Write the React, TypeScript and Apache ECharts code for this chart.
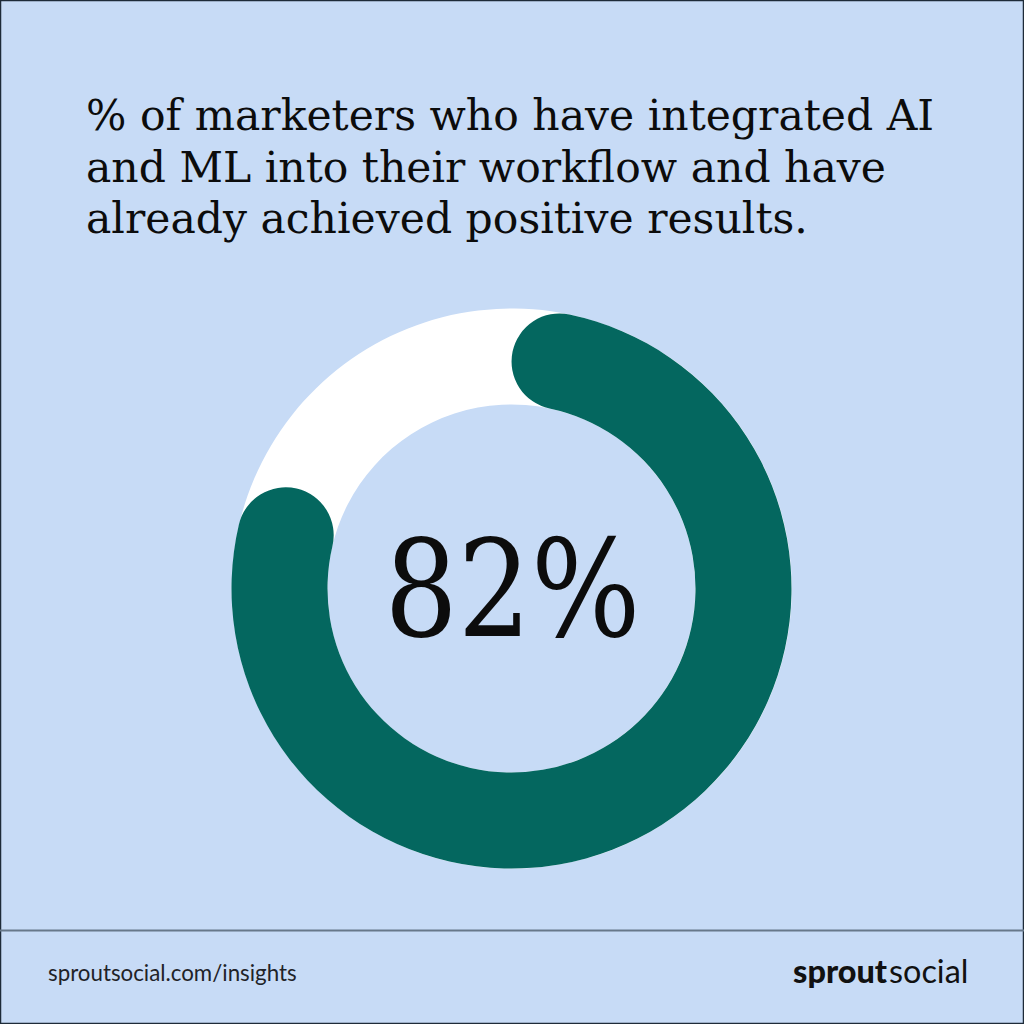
import React, { useEffect, useRef } from 'react';
import * as echarts from 'echarts';

const titleLines = [
  '% of marketers who have integrated AI',
  'and ML into their workflow and have',
  'already achieved positive results.',
];
const shareValue = 82;
const shareMax = 100;
const footerUrl = 'sproutsocial.com/insights';
const logoBold = 'sprout';
const logoLight = 'social';

const BG = '#c7dbf6';
const GREEN = '#04675f';
const INK = '#0c0c0c';

export default function App() {
  const ref = useRef<HTMLDivElement>(null);
  useEffect(() => {
    const chart = echarts.init(ref.current!, null, { renderer: 'svg' });
    const cx = 511.5;
    const cy = 588.5;
    const rOuter = 280;
    const band = 96;
    const rMid = rOuter - band / 2;
    const capDeg = (Math.asin(band / 2 / rMid) * 180) / Math.PI;
    const capVal = (capDeg / 360) * shareMax;
    const start = 90 - capDeg;

    const titleFs = 42.5;
    const titleBaselines = [130, 182, 233];
    const bigFs = 134;
    const footFs = 22.3;
    const logoFs = 32.4;

    chart.setOption({
      animation: false,
      backgroundColor: BG,
      series: [
        {
          type: 'gauge',
          center: [cx, cy],
          radius: rOuter,
          startAngle: start,
          endAngle: start - 360,
          clockwise: true,
          min: 0,
          max: shareMax,
          pointer: { show: false },
          anchor: { show: false },
          axisTick: { show: false },
          splitLine: { show: false },
          axisLabel: { show: false },
          title: { show: false },
          detail: { show: false },
          axisLine: { roundCap: false, lineStyle: { width: band, color: [[1, '#ffffff']] } },
          progress: { show: true, width: band, roundCap: true, itemStyle: { color: GREEN } },
          data: [{ value: shareValue - 2 * capVal, name: 'share' }],
        },
      ],
      graphic: [
        {
          type: 'rect',
          silent: true,
          shape: { x: 0.5, y: 0.5, width: 1023, height: 1023 },
          style: { fill: 'none', stroke: '#1e2b38', lineWidth: 1.5 },
        },
        {
          type: 'line',
          silent: true,
          shape: { x1: 0, y1: 930.5, x2: 1024, y2: 930.5 },
          style: { stroke: '#67788a', lineWidth: 2 },
        },
        ...titleLines.map((t, i) => ({
          type: 'text',
          silent: true,
          x: 86,
          y: titleBaselines[i] - 0.346 * titleFs,
          style: {
            text: t,
            font: `400 ${titleFs}px "DejaVu Serif"`,
            fill: INK,
            align: 'left',
            verticalAlign: 'middle',
          },
        })),
        {
          type: 'text',
          silent: true,
          x: 512.5,
          y: 636 - 0.346 * bigFs,
          scaleX: 0.86,
          style: {
            text: `${shareValue}%`,
            font: `400 ${bigFs}px "DejaVu Serif"`,
            fill: INK,
            align: 'center',
            verticalAlign: 'middle',
          },
        },
        {
          type: 'text',
          silent: true,
          x: 48,
          y: 981 - 0.387 * footFs,
          style: {
            text: footerUrl,
            font: `400 ${footFs}px Lato`,
            fill: '#1f2328',
            align: 'left',
            verticalAlign: 'middle',
          },
        },
        {
          type: 'text',
          silent: true,
          x: 887,
          y: 983 - 0.387 * logoFs,
          style: {
            text: logoBold,
            font: `900 ${logoFs}px Lato`,
            fill: '#111111',
            align: 'right',
            verticalAlign: 'middle',
          },
        },
        {
          type: 'text',
          silent: true,
          x: 889,
          y: 983 - 0.387 * logoFs,
          style: {
            text: logoLight,
            font: `400 ${logoFs}px Lato`,
            fill: '#111111',
            align: 'left',
            verticalAlign: 'middle',
          },
        },
      ],
    });
    return () => chart.dispose();
  }, []);
  return (
    <div
      ref={ref}
      style={{ position: 'fixed', left: 0, top: 0, width: 1024, height: 1024 }}
    />
  );
}
